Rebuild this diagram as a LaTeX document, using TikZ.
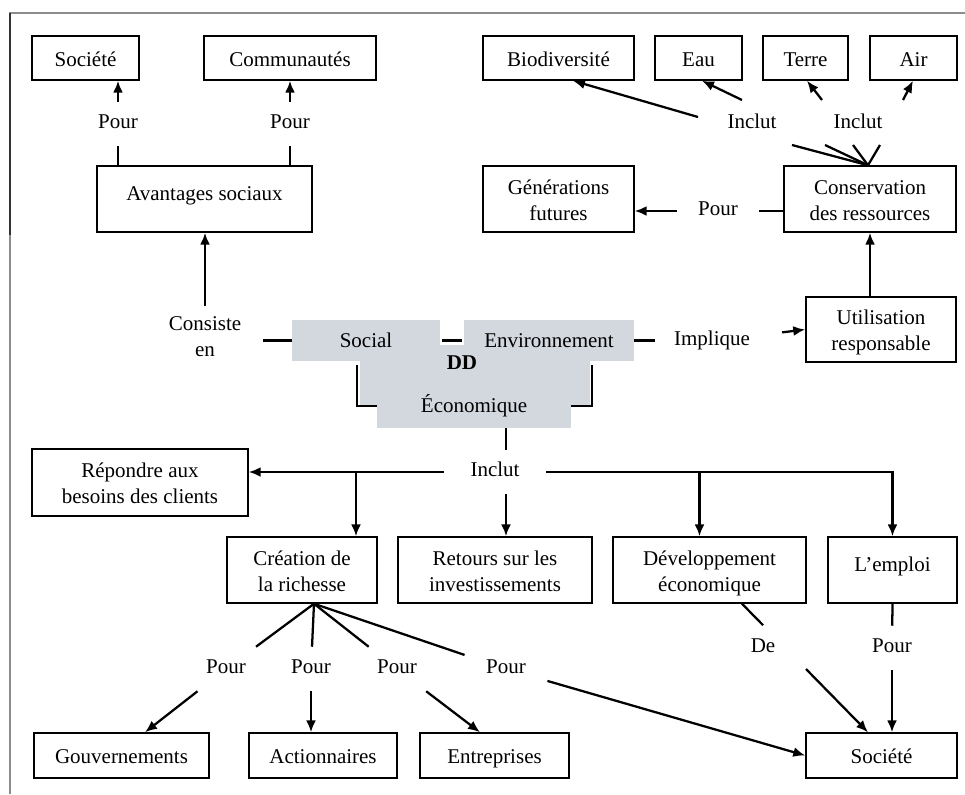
\documentclass[tikz,border=0pt]{standalone}
\usepackage{fontspec}
\setmainfont{Liberation Serif}
\usetikzlibrary{arrows.meta,calc}

\definecolor{ddgray}{RGB}{211,215,222}
\definecolor{framegray}{RGB}{140,140,140}

\tikzset{
  every node/.style={font=\fontsize{15.75}{19.5}\selectfont},
  box/.style={draw, line width=1.1pt, align=center, inner sep=2pt},
  upper/.style={text depth=14pt},
  ddpart/.style={fill=ddgray, inner sep=0pt},
  lbl/.style={inner xsep=16pt, inner ysep=9pt, text height=11pt, text depth=4pt},
  lbltwo/.style={inner xsep=16pt, inner ysep=8pt, align=center},
  ln/.style={line width=1.7pt},
  arr/.style={line width=1.7pt, -{Latex[length=9pt,width=7.5pt]}},
}

% strut that sets box text slightly low, as in the printed chart
\newcommand\boxstrut{\rule[-3.6pt]{0pt}{19.5pt}}
% \pbox[options]{name}{x1}{y1}{x2}{y2}{text}
\newcommand\pbox[7][]{%
  \node[box,#1,minimum width={((#5)-(#3))*0.75pt},minimum height={((#6)-(#4))*0.75pt}]
    (#2) at ({((#3)+(#5))/2},{((#4)+(#6))/2}) {\boxstrut #7\boxstrut};}

\begin{document}
\begin{tikzpicture}[x=0.75pt,y=-0.75pt]
\useasboundingbox (0,0) rectangle (965,794);

% frame
\draw[framegray, line width=1.3pt] (10,794) -- (10,13) -- (965,13);
\draw[black!80, line width=1.3pt] (10,13) -- (10,235);

% ---- social side ----
\pbox{soca}{32}{36}{139}{80}{Société}
\pbox{com}{204}{36}{376}{80}{Communautés}
\pbox[upper]{av}{97}{166}{312}{232}{Avantages sociaux}
\node[lbl] (p1) at (118,124) {Pour};
\node[lbl] (p2) at (290,124) {Pour};
\draw[ln] (av.north -| p1) -- (p1);
\draw[arr] (p1) -- (soca.south -| p1);
\draw[ln] (av.north -| p2) -- (p2);
\draw[arr] (p2) -- (com.south -| p2);

% ---- environment side ----
\pbox{bio}{483}{36}{634}{80}{Biodiversité}
\pbox{eau}{655}{36}{742}{80}{Eau}
\pbox{terre}{763}{36}{848}{80}{Terre}
\pbox{air}{870}{36}{957}{80}{Air}
\pbox{gen}{483}{166}{634}{232}{Générations\\futures}
\pbox{cons}{784}{166}{956}{232}{Conservation\\des ressources}
\pbox{util}{806}{297}{956}{362}{Utilisation\\responsable}
\node[lbl] (inca) at (752,124) {Inclut};
\node[lbl] (incb) at (858,124) {Inclut};
\coordinate (consT) at ($(cons.north)+(-2,0)$);
\draw[ln] (consT) -- ($(inca)+(40,21)$);
\draw[ln] (consT) -- ($(inca)+(73,21)$);
\draw[ln] (consT) -- ($(incb)+(-5,21)$);
\draw[ln] (consT) -- ($(incb)+(22,21)$);
\draw[arr] ($(inca)+(-54,-7)$) -- ($(bio.south)+(14.5,0)$);
\draw[arr] ($(inca)+(-10,-24)$) -- ($(eau.south)+(3.5,0)$);
\draw[arr] ($(incb)+(-36,-24)$) -- ($(terre.south)+(1.5,0)$);
\draw[arr] ($(incb)+(45,-24)$) -- ($(air.south)+(-0.5,0)$);
\node[lbl] (pg) at (718,211) {Pour};
\draw[ln] (cons.west |- pg) -- (pg);
\draw[arr] (pg) -- (gen.east |- pg);
\draw[arr] (util.north -| cons.south) -- (cons.south);

% ---- DD core ----
\fill[ddgray] (360,345) rectangle (590,407);
\node[ddpart, minimum width=148*0.75pt, minimum height=41*0.75pt] (social) at (366,340.5) {Social};
\node[ddpart, minimum width=170*0.75pt, minimum height=41*0.75pt] (env) at (549,340.5) {Environnement};
\node[ddpart, minimum width=194*0.75pt, minimum height=44*0.75pt] (eco) at (474,406) {Économique};
\node[font=\fontsize{15.75}{19.5}\selectfont\bfseries, inner sep=0pt] (dd) at (462,363) {DD};
\draw[ln, shorten <=1.5pt, shorten >=1.5pt] (social.east) -- (env.west);
\draw[ln] ($(social.south west)+(65,4)$) |- (eco.west);
\draw[ln] ($(env.south east)+(-42,4)$) |- (eco.east);

\node[lbltwo] (cen) at (205,337) {Consiste\\en};
\draw[ln] (cen.east |- social) -- (social.west);
\draw[arr] (cen) -- (av.south -| cen);
\node[lbl, inner xsep=14pt] (imp) at (712,341) {Implique};
\draw[ln] (env.east) -- (imp.west |- env);
\draw[arr, shorten <=10pt] (imp) -- (util.west);

% ---- economic side ----
\pbox{rep}{32}{449}{248}{516}{Répondre aux\\besoins des clients}
\pbox{cre}{227}{537}{377}{603}{Création de\\la richesse}
\pbox{ret}{398}{537}{592}{603}{Retours sur les\\investissements}
\pbox{dev}{613}{537}{806}{603}{Développement\\économique}
\pbox[upper]{emp}{828}{537}{957}{603}{L’emploi}
\node[lbl, inner xsep=20pt] (incc) at (495,472) {Inclut};
\coordinate (incN) at ($(incc.north)+(11,0)$);
\coordinate (incS) at ($(incc.south)+(11,0)$);
\draw[ln] (incN |- eco.south) -- (incN);
\draw[arr] (incS) -- (incS |- ret.north);
\draw[arr] (incc.west) -- (rep.east |- incc);
\coordinate (creT) at ($(cre.north)+(54,0)$);
\draw[arr] (creT |- incc) -- (creT);
\draw[arr] (incc.east) -| (emp.north);
\coordinate (devT) at ($(dev.north)+(-10,0)$);
\draw[arr] (devT |- incc) -- (devT);

\pbox{gov}{34}{733}{209}{778}{Gouvernements}
\pbox{act}{249}{733}{397}{778}{Actionnaires}
\pbox{ent}{420}{733}{569}{778}{Entreprises}
\pbox{socb}{806}{733}{957}{778}{Société}

\coordinate (creB) at ($(cre.south)+(12,0)$);
\node[lbl] (qa) at (226,669) {Pour};
\node[lbl] (qb) at (311,669) {Pour};
\node[lbl] (qc) at (397,669) {Pour};
\node[lbl] (qd) at (506,669) {Pour};
\draw[ln] (creB) -- (qa);
\draw[ln] (creB) -- (qb);
\draw[ln] (creB) -- (qc);
\draw[ln] (creB) -- (qd);
\draw[arr] (qa) -- ($(gov.north)+(23.5,0)$);
\draw[arr] (qb) -- ($(act.north)+(-12,0)$);
\draw[arr] (qc) -- ($(ent.north)+(-14.5,0)$);
\draw[arr] (qd) -- (socb.west);

\coordinate (devB) at ($(dev.south)+(32.5,0)$);
\coordinate (socT) at ($(socb.north)+(-13.5,0)$);
\node[lbl] (de) at (763,648) {De};
\draw[ln] (devB) -- ($(devB)!0.167!(socT)$);
\draw[arr] ($(devB)!0.508!(socT)$) -- (socT);

\node[lbl] (qe) at (892,648) {Pour};
\draw[ln] (emp.south) -- (qe);
\draw[arr] (qe) -- (socb.north -| qe);
\end{tikzpicture}
\end{document}
